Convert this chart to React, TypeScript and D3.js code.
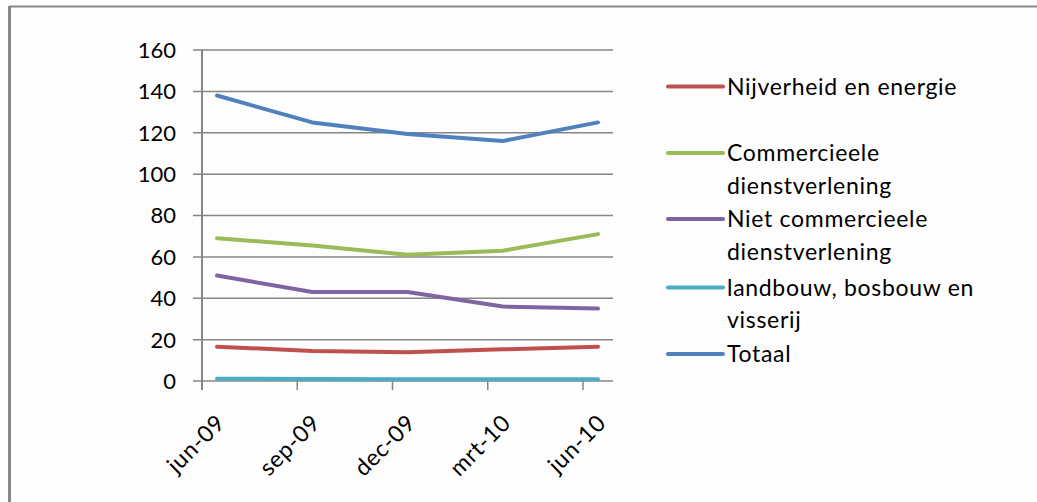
import React from "react";
import * as d3 from "d3";

const categories = ["jun-09", "sep-09", "dec-09", "mrt-10", "jun-10"];
const yTicks = [0, 20, 40, 60, 80, 100, 120, 140, 160];

const nijverheid = [16.6, 14.5, 13.9, 15.3, 16.6];
const commercieel = [69, 65.5, 61, 63, 71];
const nietCommercieel = [51, 43, 43, 36, 35];
const landbouw = [1.1, 1.0, 0.8, 0.8, 0.8];
const totaal = [138, 125, 119.4, 116, 125];

const seriesNames = [
	["Nijverheid en energie"],
	["Commercieele", "dienstverlening"],
	["Niet commercieele", "dienstverlening"],
	["landbouw, bosbouw en", "visserij"],
	["Totaal"],
];
const seriesValues = [nijverheid, commercieel, nietCommercieel, landbouw, totaal];
const colors = ["#C0504D", "#9BBB59", "#8064A2", "#4BACC6", "#4F81BD"];
// legend rows (y of swatch)
const legendY = [86.5, 153, 219, 287.5, 354];

const W = 1037;
const H = 502;
const FONT = "Lato, 'Open Sans', sans-serif";

const App: React.FC = () => {
	const plot = {left: 202, right: 613, top: 50, bottom: 381};
	const y = d3.scaleLinear().domain([0, 160]).range([plot.bottom, plot.top]);
	const x = d3.scalePoint<string>().domain(categories).range([217, 598]);

	const line = d3
		.line<number>()
		.x((_, i) => x(categories[i]) as number)
		.y((d) => y(d));

	return (
		<svg
			width={W}
			height={H}
			style={{position: "absolute", left: 0, top: 0, background: "#fdfdfd"}}
			fontFamily={FONT}
		>
			{/* outer frame, only top and left visible */}
			<line x1={9.5} y1={6.5} x2={W} y2={6.5} stroke="#888" strokeWidth={2} />
			<line x1={9.5} y1={6} x2={9.5} y2={H} stroke="#888" strokeWidth={3} />

			{/* gridlines + y labels */}
			{yTicks.map((t) => (
				<g key={t}>
					<line
						x1={193}
						x2={plot.right}
						y1={y(t)}
						y2={y(t)}
						stroke="#868686"
						strokeWidth={1.5}
					/>
					<text
						x={176}
						y={y(t)}
						dy="0.36em"
						textAnchor="end"
						fontSize={22}
						fill="#000"
					>
						{t}
					</text>
				</g>
			))}

			{/* y axis */}
			<line
				x1={plot.left}
				x2={plot.left}
				y1={plot.top}
				y2={plot.bottom + 9}
				stroke="#868686"
				strokeWidth={2}
			/>

			{/* x ticks and labels */}
			{categories.map((c, i) => {
				const px = x(c) as number;
				const tx = px - 15;
				return (
					<g key={c}>
						{i > 0 && (
							<line
								x1={tx}
								x2={tx}
								y1={plot.bottom}
								y2={plot.bottom + 9}
								stroke="#868686"
								strokeWidth={1.5}
							/>
						)}
						<text
							transform={`translate(${px - 2},${plot.bottom + 32}) rotate(-45)`}
							textAnchor="end"
							dy="0.7em"
							fontSize={23}
							letterSpacing={0.7}
							fill="#000"
						>
							{c}
						</text>
					</g>
				);
			})}

			{/* series lines */}
			{seriesValues.map((vals, i) => (
				<path
					key={i}
					d={line(vals) || ""}
					fill="none"
					stroke={colors[i]}
					strokeWidth={4}
					strokeLinecap="round"
					strokeLinejoin="round"
				/>
			))}

			{/* legend */}
			{seriesNames.map((lines, i) => (
				<g key={i}>
					<line
						x1={668}
						x2={723}
						y1={legendY[i]}
						y2={legendY[i]}
						stroke={colors[i]}
						strokeWidth={4}
						strokeLinecap="round"
					/>
					{lines.map((l, j) => (
						<text
							key={j}
							x={727}
							y={legendY[i] + j * 32.5}
							dy="0.35em"
							fontSize={23}
							letterSpacing={0.7}
							fill="#000"
						>
							{l}
						</text>
					))}
				</g>
			))}
		</svg>
	);
};

export default App;
